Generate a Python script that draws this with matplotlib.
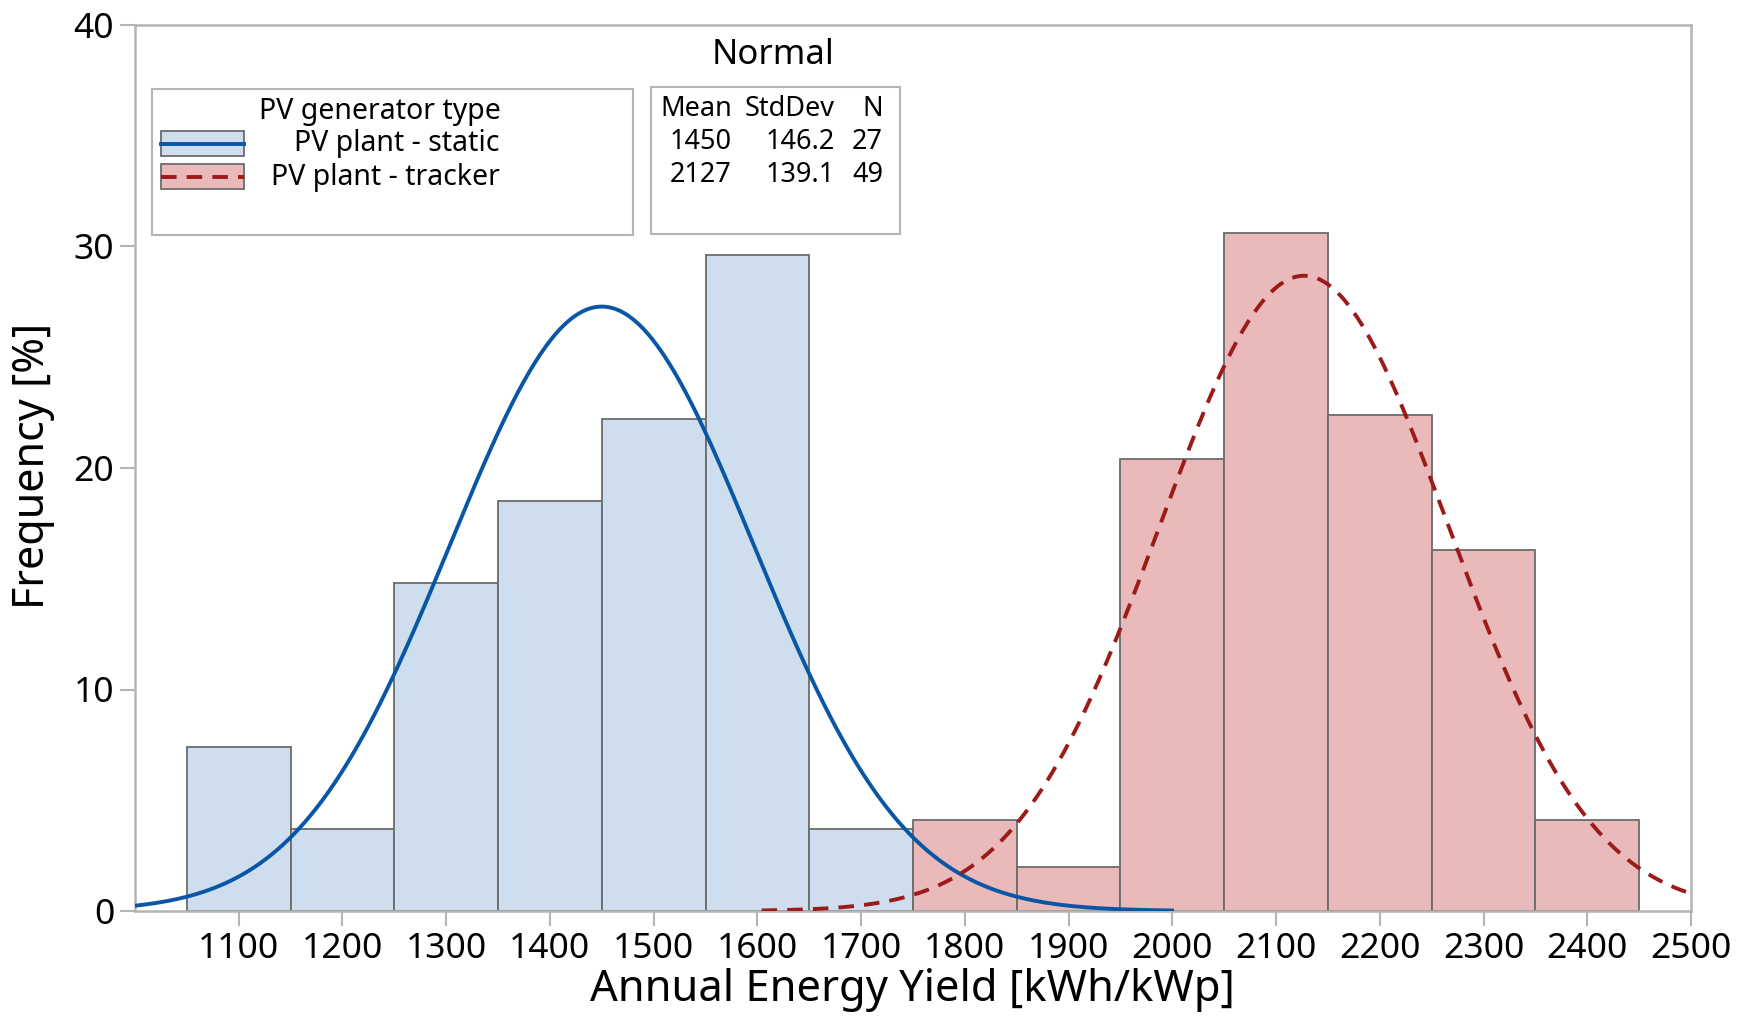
import numpy as np
import matplotlib.pyplot as plt
from matplotlib.patches import Rectangle
from matplotlib.lines import Line2D

plt.rcParams['font.family'] = ['Noto Sans', 'DejaVu Sans']

# histogram data (percent per 100 kWh/kWp bin)
static_centers = [1100, 1200, 1300, 1400, 1500, 1600, 1700]
static_pct = [7.4, 3.7, 14.8, 18.5, 22.2, 29.6, 3.7]
tracker_centers = [1800, 1900, 2000, 2100, 2200, 2300, 2400]
tracker_pct = [4.1, 2.0, 20.4, 30.6, 22.4, 16.3, 4.1]
bin_width = 100

# fitted normal parameters
groups = ['PV plant - static', 'PV plant - tracker']
means = [1450, 2127]
stdevs = [146.2, 139.1]
counts = [27, 49]

x_ticks = [1100, 1200, 1300, 1400, 1500, 1600, 1700, 1800, 1900, 2000,
           2100, 2200, 2300, 2400, 2500]
y_ticks = [0, 10, 20, 30, 40]

face_cols = ['#cfdeef', '#eababa']
line_cols = ['#0a56a6', '#9c1a1a']
edge_col = '#6b6b6b'
frame_col = '#b4b4b4'

W, H = 1750, 1017
fig = plt.figure(figsize=(W / 100, H / 100), dpi=100)
ax = fig.add_axes([135 / W, 1 - 911 / H, (1691 - 135) / W, (911 - 25) / H])

ax.bar(static_centers, static_pct, width=bin_width, color=face_cols[0],
       edgecolor=edge_col, linewidth=1.3, zorder=2)
ax.bar(tracker_centers, tracker_pct, width=bin_width, color=face_cols[1],
       edgecolor=edge_col, linewidth=1.3, zorder=2)

# normal fit curves scaled to percent per bin
styles = ['-', (0, (4, 2.6))]
for m, s, c, ls in zip(means, stdevs, line_cols, styles):
    xx = np.linspace(m - 3.76 * s, m + 3.76 * s, 400)
    yy = 100 * bin_width * np.exp(-0.5 * ((xx - m) / s) ** 2) / (s * np.sqrt(2 * np.pi))
    ax.plot(xx, yy, color=c, lw=2.8, ls=ls, zorder=3)

ax.set_xlim(1000, 2500)
ax.set_ylim(0, 40)
ax.set_xticks(x_ticks)
ax.set_yticks(y_ticks)
ax.tick_params(direction='out', length=11, width=1.5, color=frame_col,
               labelsize=25.5, pad=4)
for sp in ax.spines.values():
    sp.set_color(frame_col)
    sp.set_linewidth(1.8)

fig.text(912 / W, 1 - 990 / H, 'Annual Energy Yield [kWh/kWp]', fontsize=31.3,
         ha='center', va='center')
fig.text(33 / W, 1 - 466 / H, 'Frequency [%]', fontsize=31,
         ha='center', va='center', rotation=90)


def fx(x):
    return x / W


def fy(y):
    return 1 - y / H


# legend block
fig.text(fx(773), fy(55), 'Normal', fontsize=25, ha='center', va='center')
fig.add_artist(Rectangle((fx(152), fy(235)), fx(633 - 152), (235 - 89) / H,
                         transform=fig.transFigure, fill=False,
                         edgecolor=frame_col, lw=1.5))
fig.add_artist(Rectangle((fx(651), fy(234)), fx(900 - 651), (234 - 87) / H,
                         transform=fig.transFigure, fill=False,
                         edgecolor=frame_col, lw=1.5))
fig.text(fx(380), fy(111), 'PV generator type', fontsize=20.5,
         ha='center', va='center')
row_y = [144, 177]
for i in range(2):
    y0 = row_y[i]
    fig.add_artist(Rectangle((fx(161), fy(y0 + 12)), fx(83), 25 / H,
                             transform=fig.transFigure, facecolor=face_cols[i],
                             edgecolor=edge_col, lw=1.3))
    fig.add_artist(Line2D([fx(161), fx(244)], [fy(y0), fy(y0)],
                          transform=fig.transFigure, color=line_cols[i],
                          lw=2.8, ls=styles[i]))
    fig.text(fx(500), fy(y0), groups[i], fontsize=20.5, ha='right', va='center')

# stats table
col_x = [732, 835, 883]
for x, h in zip(col_x, ['Mean', 'StdDev', 'N']):
    fig.text(fx(x), fy(109), h, fontsize=19.5, ha='right', va='center')
for i in range(2):
    vals = [f'{means[i]}', f'{stdevs[i]:.1f}', f'{counts[i]}']
    for x, v in zip(col_x, vals):
        fig.text(fx(x), fy(row_y[i] - 2), v, fontsize=19.5, ha='right', va='center')

fig.savefig('out.png', dpi=100)
